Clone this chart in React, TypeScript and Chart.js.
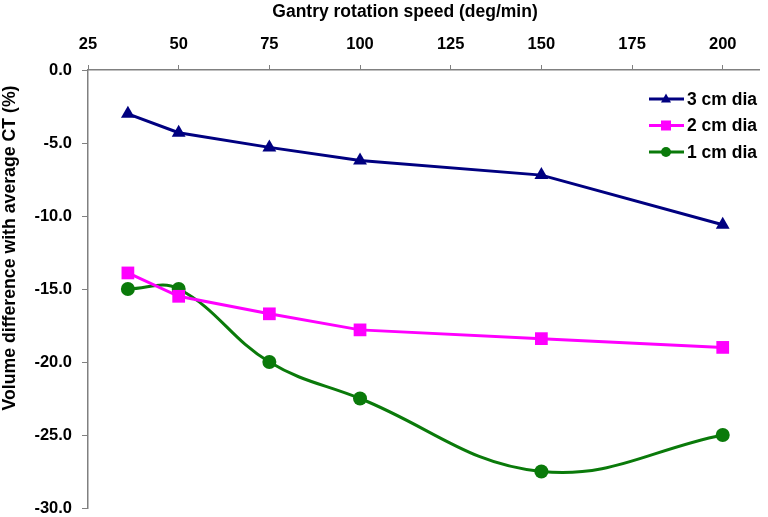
import React, { useEffect, useRef } from 'react';
import { Chart, registerables } from 'chart.js';
Chart.register(...registerables);

const speeds = [36, 50, 75, 100, 150, 200];
const dia3 = [-3.0, -4.3, -5.3, -6.2, -7.2, -10.6];
const dia2 = [-13.9, -15.5, -16.7, -17.8, -18.4, -19.0];
const dia1 = [-15.0, -15.0, -20.0, -22.5, -27.5, -25.0];
const seriesLabels = ['3 cm dia', '2 cm dia', '1 cm dia'];
const seriesColors = ['#000080', '#FF00FF', '#0A7A0A'];
const seriesMarkers = ['triangle', 'rect', 'circle'];
const seriesRadius = [8, 9, 7];
const xTickValues = [25, 50, 75, 100, 125, 150, 175, 200];
const xTitle = 'Gantry rotation speed (deg/min)';
const yTitle = 'Volume difference with average CT (%)';

const FONT = "'Liberation Sans', Arial, sans-serif";

function drawMarker(ctx: CanvasRenderingContext2D, style: string, x: number, y: number, r: number) {
  ctx.beginPath();
  if (style === 'triangle') {
    ctx.moveTo(x, y - r * 1.1);
    ctx.lineTo(x + r, y + r * 0.7);
    ctx.lineTo(x - r, y + r * 0.7);
    ctx.closePath();
  } else if (style === 'rect') {
    ctx.rect(x - r, y - r, 2 * r, 2 * r);
  } else {
    ctx.arc(x, y, r, 0, Math.PI * 2);
  }
  ctx.fill();
}

const decorPlugin = {
  id: 'decor',
  afterDraw(chart: any) {
    const ctx = chart.ctx;
    const area = chart.chartArea;
    // titles
    ctx.save();
    ctx.fillStyle = '#000';
    ctx.font = `bold 17.5px ${FONT}`;
    ctx.textAlign = 'center';
    ctx.textBaseline = 'alphabetic';
    ctx.fillText(xTitle, area.left + 317, 17);
    ctx.translate(14.5, area.top + 178);
    ctx.rotate(-Math.PI / 2);
    ctx.font = `bold 17.7px ${FONT}`;
    ctx.fillText(yTitle, 0, 0);
    ctx.restore();

    // legend
    const x0 = area.right - 110;
    const y0 = area.top + 29;
    const gap = 26.5;
    chart.data.datasets.forEach((ds: any, i: number) => {
      const y = y0 + i * gap;
      ctx.save();
      ctx.strokeStyle = ds.borderColor;
      ctx.lineWidth = 3;
      ctx.beginPath();
      ctx.moveTo(x0, y);
      ctx.lineTo(x0 + 35, y);
      ctx.stroke();
      ctx.fillStyle = ds.borderColor;
      drawMarker(ctx, ds.pointStyle, x0 + 17, y, 5);
      ctx.fillStyle = '#000';
      ctx.font = `bold 17.5px ${FONT}`;
      ctx.textBaseline = 'middle';
      ctx.textAlign = 'left';
      ctx.fillText(ds.label, x0 + 38, y + 1);
      ctx.restore();
    });
  },
};

export default function App() {
  const ref = useRef<HTMLCanvasElement>(null);
  useEffect(() => {
    document.body.style.margin = '0';
    const values = [dia3, dia2, dia1];
    const chart = new Chart(ref.current!, {
      type: 'line',
      data: {
        datasets: values.map((vals, i) => ({
          label: seriesLabels[i],
          data: speeds.map((s, j) => ({ x: s, y: vals[j] })),
          borderColor: seriesColors[i],
          backgroundColor: seriesColors[i],
          pointBackgroundColor: seriesColors[i],
          pointBorderColor: seriesColors[i],
          pointStyle: seriesMarkers[i] as any,
          pointRadius: seriesRadius[i],
          pointBorderWidth: 0,
          borderWidth: 3,
          tension: i === 2 ? 0.4 : 0,
          fill: false,
        })),
      },
      options: {
        animation: false,
        responsive: false,
        maintainAspectRatio: false,
        layout: { padding: { left: 4, right: 3, top: 0, bottom: 0 } },
        plugins: { legend: { display: false }, tooltip: { enabled: false } },
        scales: {
          x: {
            type: 'linear',
            position: 'top',
            min: 25,
            max: 210,
            afterBuildTicks: (scale: any) => {
              scale.ticks = xTickValues.map((v) => ({ value: v }));
            },
            afterFit: (scale: any) => {
              scale.height = 70;
            },
            ticks: {
              color: '#000',
              font: { family: FONT, size: 16.5, weight: 'bold' },
              padding: 11,
              maxRotation: 0,
              autoSkip: false,
            },
            grid: {
              display: true,
              drawOnChartArea: false,
              drawTicks: true,
              tickLength: 5,
              color: '#808080',
            },
            border: { display: true, color: '#808080', width: 1.5 },
            title: { display: false },
          },
          y: {
            type: 'linear',
            min: -30,
            max: 0,
            afterFit: (scale: any) => {
              scale.width = 84;
              scale.paddingBottom = 0;
            },
            ticks: {
              stepSize: 5,
              color: '#000',
              font: { family: FONT, size: 16.5, weight: 'bold' },
              callback: (v: any) => Number(v).toFixed(1),
              padding: 10,
            },
            grid: {
              display: true,
              drawOnChartArea: false,
              drawTicks: true,
              tickLength: 6,
              color: '#808080',
            },
            border: { display: true, color: '#808080', width: 1.5 },
            title: { display: false },
          },
        },
      },
      plugins: [decorPlugin],
    });
    return () => chart.destroy();
  }, []);
  return (
    <div style={{ position: 'absolute', left: 0, top: 0, width: 768, height: 517 }}>
      <canvas ref={ref} width={768} height={517} style={{ display: 'block', width: 768, height: 517 }} />
    </div>
  );
}
